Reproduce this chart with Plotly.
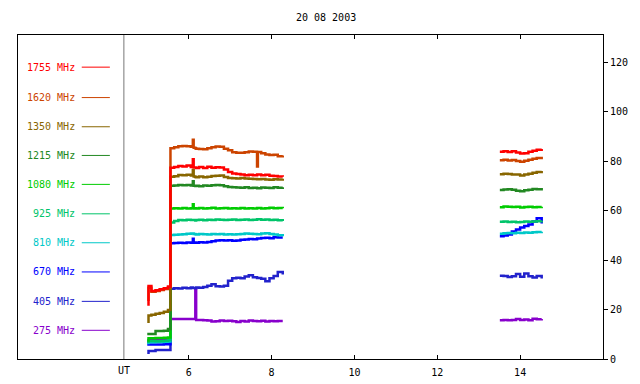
import plotly.graph_objects as go

# ---- data ----
TITLE = "20 08 2003"
FREQS = ["1755 MHz", "1620 MHz", "1350 MHz", "1215 MHz", "1080 MHz",
         "925 MHz", "810 MHz", "670 MHz", "405 MHz", "275 MHz"]
COLORS = ["#ff0000", "#cc4400", "#886600", "#228822", "#00cc00",
          "#00c46a", "#00c8c8", "#0000ff", "#2222cc", "#8800cc"]
LEGEND_Y = [118, 105.7, 93.9, 82.3, 70.6, 58.7, 47.0, 35.2, 23.3, 11.6]

T_SEG1 = [5.0, 5.03, 5.1, 5.2, 5.3, 5.4, 5.5,
          5.56, 5.65, 5.75, 5.85, 5.95, 6.05, 6.10, 6.12, 6.16, 6.18,
          6.25, 6.35, 6.45, 6.55, 6.65, 6.75, 6.85, 6.95,
          7.05, 7.15, 7.25, 7.35, 7.45, 7.55, 7.65, 7.67,
          7.75, 7.85, 7.95, 8.05, 8.15, 8.27]
T_SEG2 = [13.51, 13.6, 13.7, 13.8, 13.9, 14.0, 14.1, 14.2, 14.3, 14.4, 14.52]

S1755_A = [22, 29.5, 27.5, 27.8, 28.2, 28.6, 29.3,
           77.3, 77.6, 78.0, 77.8, 78.2, 77.6, 80.8, 77.4, 77.4, 77.2,
           77.6, 77.2, 77.7, 77.3, 77.5, 77.4, 76.6, 75.6,
           75.0, 74.8, 74.6, 74.3, 74.5, 74.3, 74.6, 74.6,
           74.3, 74.5, 74.1, 74.0, 73.8, 73.7]
S1755_B = [83.8, 84.0, 83.7, 84.0, 83.5, 83.1, 83.2, 83.8, 84.2, 84.6, 84.9]

S1620_A = [24, 28.8, 27.2, 27.5, 27.9, 28.3, 28.9,
           85.2, 85.6, 86.0, 86.1, 86.0, 85.8, 88.6, 85.4, 85.2, 85.0,
           84.9, 84.8, 85.2, 85.6, 85.9, 85.8, 85.0, 84.4,
           83.6, 83.4, 83.4, 83.6, 83.9, 83.8, 77.8, 83.7,
           83.2, 82.7, 82.5, 82.6, 82.0, 82.3]
S1620_B = [80.4, 80.6, 80.3, 80.5, 80.1, 79.8, 80.2, 80.6, 81.0, 81.3, 81.8]

S1350_A = [15.1, 17.6, 17.9, 18.3, 18.6, 19.1, 19.8,
           73.7, 73.9, 74.4, 74.3, 74.5, 74.2, 76.4, 73.8, 73.6, 73.5,
           73.8, 73.5, 73.7, 74.0, 74.1, 74.2, 73.6, 73.2,
           73.1, 73.0, 73.2, 73.0, 72.9, 72.8, 72.7, 72.7,
           72.8, 72.6, 72.5, 72.7, 72.6, 72.9]
S1350_B = [74.7, 74.9, 74.8, 74.6, 74.6, 74.2, 74.6, 74.9, 75.3, 75.6, 76.0]

S1215_A = [10.1, 10.1, 10.1, 11.3, 11.3, 11.4, 12.1,
           70.0, 70.1, 70.4, 70.3, 70.4, 70.2, 71.9, 70.0, 69.9, 70.0,
           69.8, 70.1, 70.0, 70.3, 70.4, 70.3, 69.8, 69.5,
           69.4, 69.3, 69.2, 69.4, 69.1, 69.2, 69.0, 69.0,
           69.3, 69.2, 69.1, 69.4, 69.2, 69.4]
S1215_B = [68.3, 68.5, 68.6, 68.4, 68.0, 67.8, 68.2, 68.4, 68.7, 68.6, 69.1]

S1080_A = [7.5, 8.4, 8.4, 8.5, 8.5, 8.6, 8.7,
           60.8, 61.0, 60.9, 61.1, 60.9, 61.0, 62.6, 60.9, 61.0, 60.8,
           61.1, 60.9, 61.0, 61.2, 60.9, 61.0, 61.1, 60.8,
           61.0, 60.9, 61.1, 60.9, 61.0, 60.8, 61.1, 61.1,
           60.9, 61.0, 61.2, 61.0, 61.1, 61.0]
S1080_B = [61.4, 61.7, 61.6, 61.5, 61.6, 61.3, 61.5, 61.6, 61.4, 61.5, 61.6]

S925_A = [7.0, 7.3, 7.3, 7.2, 7.3, 7.4, 7.6,
          55.2, 55.8, 56.2, 56.1, 56.3, 56.2, 56.2, 56.2, 56.0, 56.2,
          56.3, 56.1, 56.3, 56.2, 56.4, 56.3, 56.2, 56.3,
          56.4, 56.2, 56.3, 56.4, 56.2, 56.3, 56.5, 56.5,
          56.3, 56.4, 56.2, 56.3, 56.1, 55.8]
S925_B = [55.5, 55.6, 55.4, 55.5, 55.3, 55.4, 55.6, 55.5, 55.6, 55.7, 55.9]

S810_A = [6.5, 6.8, 6.8, 6.9, 6.9, 7.0, 7.1,
          50.1, 50.2, 50.3, 50.4, 50.6, 50.7, 50.7, 50.5, 50.4, 50.3,
          50.5, 50.4, 50.3, 50.5, 50.4, 50.5, 50.3, 50.4,
          50.3, 50.4, 50.5, 50.7, 50.6, 50.5, 50.4, 50.4,
          50.7, 50.8, 50.5, 50.3, 50.0, 49.6]
S810_B = [50.6, 50.8, 50.9, 50.8, 51.0, 50.9, 51.1, 51.0, 51.2, 51.3, 51.4]

S670_A = [5.9, 5.9, 5.9, 5.9, 5.9, 6.0, 6.0,
          46.8, 46.9, 47.0, 46.9, 47.1, 47.0, 48.6, 47.0, 47.1, 47.0,
          47.2, 47.1, 47.3, 47.6, 47.9, 48.0, 47.9, 48.0,
          47.8, 47.9, 48.2, 48.3, 48.5, 48.4, 48.7, 48.7,
          48.9, 49.0, 48.8, 49.2, 49.1, 49.1]
S670_B = [49.6, 49.9, 50.3, 51.6, 52.4, 53.2, 53.8, 54.4, 55.6, 56.9, 54.8]

S405_A = [2.5, 3.2, 3.2, 3.6, 3.6, 3.6, 3.6,
          28.4, 28.6, 28.5, 28.8, 28.6, 28.9, 28.7, 28.7, 28.6, 28.9,
          28.8, 29.1, 29.6, 30.2, 29.4, 29.3, 29.6, 31.6,
          32.6, 32.9, 32.6, 33.4, 33.9, 33.1, 32.8, 32.8,
          32.4, 31.4, 32.6, 33.6, 35.2, 34.2]
S405_B = [33.7, 33.6, 33.2, 33.5, 34.4, 33.3, 34.6, 33.5, 33.0, 33.6, 32.5]

S275_A = [7.0, 7.7, 7.7, 7.7, 7.7, 7.8, 7.8,
          16.2, 16.2, 16.2, 16.2, 16.2, 16.2, 16.2, 16.2, 28.6, 15.8,
          15.8, 15.7, 15.6, 15.2, 15.3, 15.6, 15.4, 15.5,
          15.3, 15.0, 15.4, 15.2, 15.6, 15.4, 15.3, 15.3,
          15.5, 15.2, 15.4, 15.3, 15.4, 15.4]
S275_B = [15.7, 15.8, 15.7, 15.8, 16.2, 15.8, 16.0, 15.7, 16.3, 16.1, 16.2]

SERIES = [
    (S1755_A, S1755_B), (S1620_A, S1620_B), (S1350_A, S1350_B),
    (S1215_A, S1215_B), (S1080_A, S1080_B), (S925_A, S925_B),
    (S810_A, S810_B), (S670_A, S670_B), (S405_A, S405_B), (S275_A, S275_B),
]

X_TICKS = [6, 8, 10, 12, 14]
Y_TICKS = [0, 20, 40, 60, 80, 100, 120]

FONT = "DejaVu Sans Mono"

fig = go.Figure()
# draw lowest frequency first so red ends on top
for i in reversed(range(len(FREQS))):
    a, b = SERIES[i]
    fig.add_trace(go.Scatter(
        x=T_SEG1 + [None] + T_SEG2,
        y=a + [None] + b,
        mode="lines", line=dict(color=COLORS[i], width=2.5, shape="hv"),
        name=FREQS[i], showlegend=False, connectgaps=False,
    ))

# in-plot legend (text + short line)
for i, name in enumerate(FREQS):
    fig.add_annotation(x=0.1, xref="paper", y=LEGEND_Y[i], yref="y",
                       text=name, showarrow=False, xanchor="right",
                       yanchor="middle",
                       font=dict(family=FONT, size=10, color=COLORS[i]))
    fig.add_shape(type="line", xref="paper", yref="y",
                  x0=0.109, x1=0.157, y0=LEGEND_Y[i], y1=LEGEND_Y[i],
                  line=dict(color=COLORS[i], width=1))

# separator between legend and data
fig.add_shape(type="line", xref="paper", yref="paper",
              x0=0.181, x1=0.181, y0=0, y1=1,
              line=dict(color="#777777", width=1))
fig.add_annotation(x=0.181, xref="paper", y=-0.036, yref="paper",
                   text="UT", showarrow=False, xanchor="center",
                   yanchor="middle",
                   font=dict(family=FONT, size=10, color="black"))

fig.update_layout(
    width=640, height=384,
    margin=dict(l=10, r=45, t=27, b=33),
    paper_bgcolor="white", plot_bgcolor="white",
    title=dict(text=TITLE, x=0.497, xanchor="center", y=0.975, yanchor="middle",
               font=dict(family=FONT, size=10, color="black")),
    font=dict(family=FONT, size=10, color="black"),
    showlegend=False,
)
fig.update_xaxes(range=[1.88, 16.0], tickvals=X_TICKS, ticks="inside",
                 ticklen=4, tickcolor="black", showline=True, linecolor="black",
                 linewidth=1, mirror="ticks", showgrid=False, zeroline=False,
                 ticklabelstandoff=4,
                 tickfont=dict(family=FONT, size=10, color="black"))
fig.update_yaxes(range=[0, 131], tickvals=Y_TICKS, side="right",
                 ticks="outside", ticklen=4, tickcolor="black", showline=True,
                 linecolor="black", linewidth=1, mirror=True, showgrid=False,
                 zeroline=False,
                 tickfont=dict(family=FONT, size=10, color="black"))

fig.write_html("out.html")
